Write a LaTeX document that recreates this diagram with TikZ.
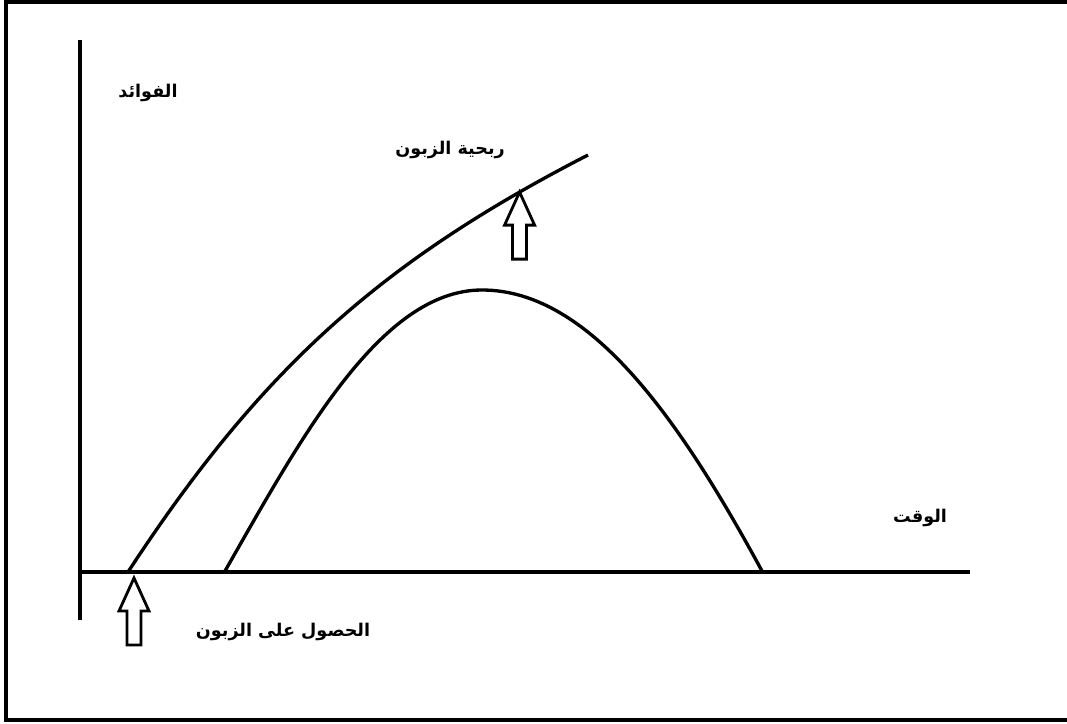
\documentclass[tikz,border=0pt]{standalone}
\usepackage{fontspec}
\usepackage{tikz}
\usetikzlibrary{calc, positioning}
\TeXXeTstate=1
\newfontfamily\arabicfont[Script=Arabic]{DejaVu Sans}

\tikzset{
  axisline/.style={line width=2.1pt},
  curveline/.style={line width=1.9pt, line join=round},
  hollowarrow/.style={line width=1.6pt, fill=white, line join=miter},
  arlabel/.style={font=\arabicfont\bfseries\fontsize{10}{12}\selectfont, inner sep=1pt}
}

\begin{document}
\begin{tikzpicture}[x=0.02cm, y=-0.02cm]
  \useasboundingbox (0,0) rectangle (1067,723);
  % frame
  \draw[line width=2.2pt] (6,2) rectangle (1075,720);

  % axes
  \coordinate (origin) at (80,572);
  \draw[axisline] (80,40) -- (80,620);
  \draw[axisline] (78,572) -- (970,572);

  % customer profitability
  \draw[curveline] (128,572) .. controls (260,370) and (380,262) .. (588,155)
    coordinate[pos=0.885] (ptip);
  \coordinate (atip) at (134,578);

  % hill
  \draw[curveline] (225,571) .. controls (300,440) and (380,290) .. (482,290)
    .. controls (590,290) and (680,420) .. (762,571);

  % hollow arrows
  \foreach \t in {atip, ptip}
    \draw[hollowarrow] (\t) -- ++(15,33) -- ++(-8,0) -- ++(0,34)
      -- ++(-14,0) -- ++(0,-34) -- ++(-8,0) -- cycle;

  % labels
  \node[arlabel] (benefits) at (148,93) {\beginR الفوائد\endR};
  \node[arlabel] (profit) at (450,150) {\beginR ربحية الزبون\endR};
  \node[arlabel] (timelbl) at (920,518) {\beginR الوقت\endR};
  \node[arlabel] (acquire) at (283,632) {\beginR الحصول على الزبون\endR};
\end{tikzpicture}
\end{document}
